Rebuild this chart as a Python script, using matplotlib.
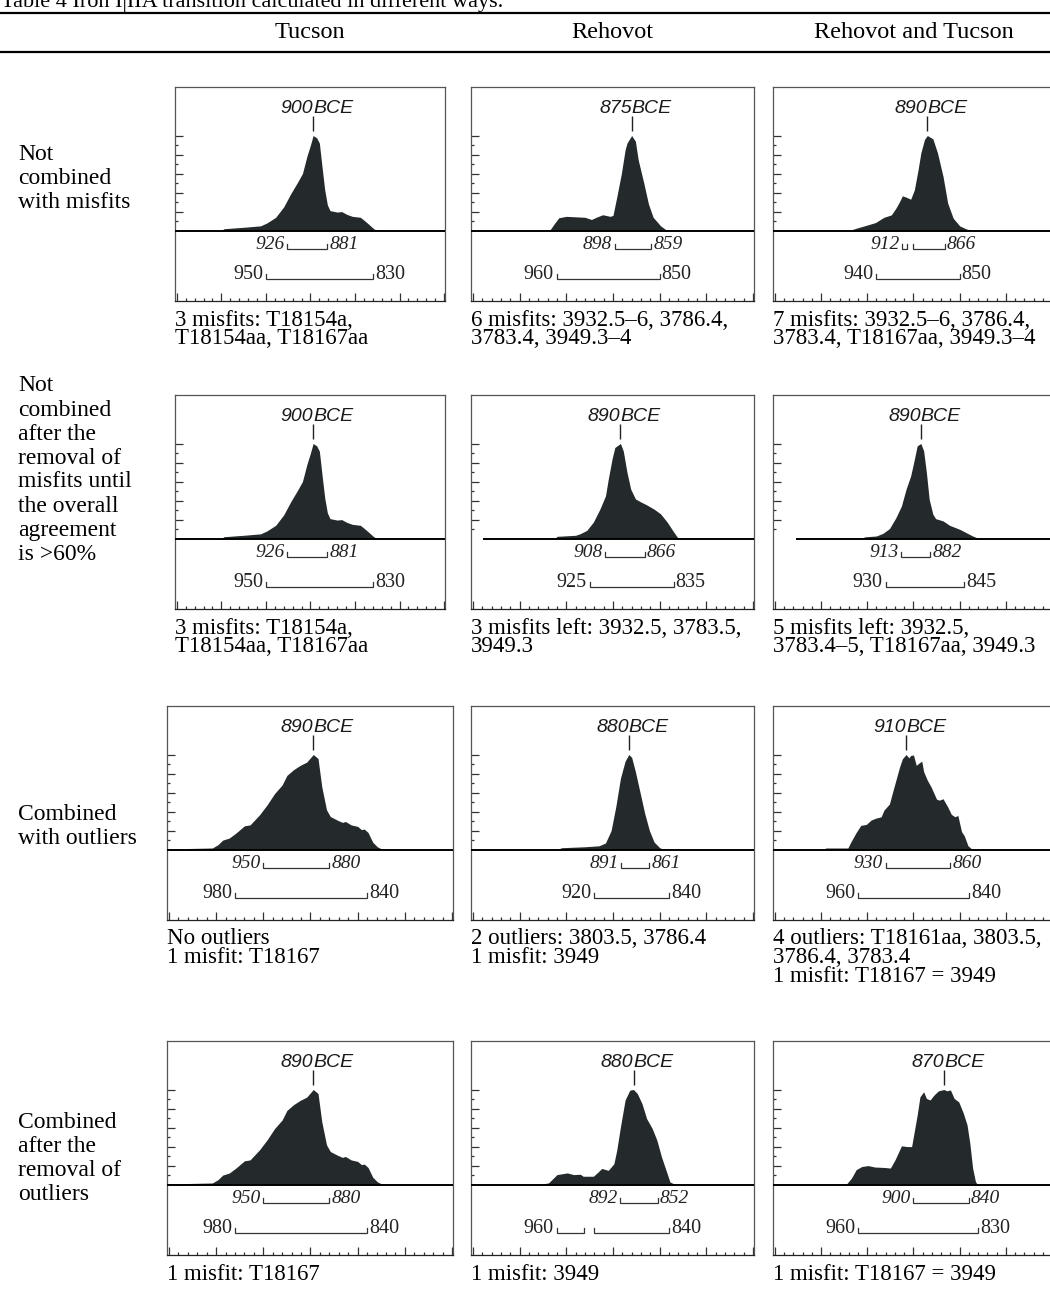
import numpy as np
import matplotlib
matplotlib.use("Agg")
import matplotlib.pyplot as plt
from matplotlib.lines import Line2D
from matplotlib.ticker import FixedLocator, MultipleLocator
from matplotlib.transforms import offset_copy

plt.rcParams['font.family'] = ['Liberation Serif', 'DejaVu Serif']

# ---------------- data ----------------
title = "Table 4 Iron I|IIA transition calculated in different ways."
columns = ["Tucson", "Rehovot", "Rehovot and Tucson"]
row_labels = [
    "Not\ncombined\nwith misfits",
    "Not\ncombined\nafter the\nremoval of\nmisfits until\nthe overall\nagreement\nis >60%",
    "Combined\nwith outliers",
    "Combined\nafter the\nremoval of\noutliers",
]

# Tucson, not combined (rows 1 and 2)
tuc_nc_years = [1000, 997, 975, 956, 949, 939, 930, 922, 915, 909, 904, 900, 897, 893,
                890, 887, 884, 881, 878, 870, 865, 859, 853, 844, 840, 835, 829, 825]
tuc_nc_dens = [0, 0.02, 0.035, 0.05, 0.08, 0.14, 0.25, 0.39, 0.5, 0.6, 0.78, 0.9, 1.0, 0.975,
               0.92, 0.67, 0.43, 0.27, 0.21, 0.195, 0.2, 0.17, 0.15, 0.14, 0.11, 0.07, 0.02, 0]
# Rehovot, not combined with misfits
reh_nc_years = [968, 963, 958, 950, 930, 923, 918, 911, 903, 900, 896, 891, 887, 885,
                880, 876, 873, 867, 862, 857, 849, 842]
reh_nc_dens = [0, 0.07, 0.135, 0.15, 0.14, 0.117, 0.14, 0.167, 0.15, 0.16, 0.35, 0.6, 0.85, 0.92,
               1.0, 0.94, 0.745, 0.5, 0.28, 0.14, 0.05, 0]
# Rehovot and Tucson, not combined with misfits
rt_nc_years = [970, 962, 952, 941, 932, 924, 919, 915, 912, 908, 903, 899, 895, 892,
               888, 885, 879, 874, 868, 863, 857, 850, 843, 836]
rt_nc_dens = [0, 0.025, 0.053, 0.085, 0.14, 0.165, 0.236, 0.306, 0.366, 0.352, 0.33, 0.43, 0.64, 0.817,
              0.96, 1.0, 0.965, 0.817, 0.57, 0.29, 0.13, 0.05, 0.018, 0]
# Rehovot, misfits removed
reh_rm_years = [962, 960, 940, 935, 928, 921, 914, 908, 905, 901, 898, 892, 889, 885,
                881, 876, 871, 864, 856, 849, 842, 835, 830]
reh_rm_dens = [0, 0.024, 0.035, 0.052, 0.087, 0.174, 0.31, 0.45, 0.627, 0.836, 0.958, 1.0, 0.923, 0.697,
               0.52, 0.418, 0.39, 0.355, 0.31, 0.26, 0.174, 0.07, 0]
# Rehovot and Tucson, misfits removed
rt_rm_years = [956, 953, 940, 933, 926, 919, 913, 908, 903, 899, 896, 892, 889, 886,
               883, 879, 876, 868, 861, 850, 843, 836, 829]
rt_rm_dens = [0, 0.018, 0.028, 0.056, 0.105, 0.22, 0.344, 0.52, 0.66, 0.835, 0.975, 1.0, 0.923, 0.695,
              0.414, 0.256, 0.21, 0.186, 0.14, 0.098, 0.063, 0.028, 0]
# Tucson, combined (rows 3 and 4)
tuc_c_years = [1052, 1004, 998, 993, 986, 979, 970, 964, 954, 946, 938, 930, 925, 918, 911, 904,
               897, 892, 888, 883, 879, 871, 866, 863, 857, 850, 846, 843, 839, 834, 829, 823]
tuc_c_dens = [0.007, 0.017, 0.052, 0.1, 0.122, 0.174, 0.25, 0.26, 0.366, 0.47, 0.59, 0.68, 0.78, 0.84,
              0.885, 0.92, 1.0, 0.958, 0.66, 0.418, 0.348, 0.307, 0.286, 0.296, 0.26, 0.244, 0.21,
              0.216, 0.18, 0.077, 0.028, 0]
# Rehovot, combined with outliers
reh_co_years = [960, 955, 930, 915, 908, 902, 897, 892, 887, 883, 880, 876, 871, 866, 861, 856, 850, 845]
reh_co_dens = [0, 0.02, 0.03, 0.04, 0.07, 0.2, 0.45, 0.75, 0.93, 1.0, 0.97, 0.82, 0.6, 0.38, 0.2, 0.08, 0.02, 0]
# Rehovot and Tucson, combined with outliers
rt_co_years = [997, 995, 971, 968, 962, 957, 951, 946, 941, 935, 932, 926, 923, 919, 915, 912, 908, 905,
               903, 900, 897, 894, 891, 889, 885, 881, 875, 872, 868, 863, 859, 855, 852, 848, 845, 841, 836]
rt_co_dens = [0, 0.017, 0.017, 0.076, 0.18, 0.255, 0.265, 0.31, 0.33, 0.345, 0.414, 0.48, 0.59, 0.73, 0.87,
              0.955, 1.0, 0.965, 0.99, 0.995, 0.886, 0.91, 0.93, 0.82, 0.73, 0.66, 0.53, 0.52, 0.535, 0.45,
              0.37, 0.345, 0.36, 0.19, 0.145, 0.04, 0]
# Rehovot, combined after removal of outliers
reh_cr_years = [980, 969, 960, 949, 942, 935, 932, 921, 917, 912, 905, 899, 896, 892, 887, 882, 878,
                874, 869, 864, 858, 853, 848, 842, 839, 833]
reh_cr_dens = [0, 0.018, 0.105, 0.123, 0.105, 0.109, 0.088, 0.088, 0.123, 0.17, 0.15, 0.22, 0.36, 0.607,
               0.89, 0.993, 1.0, 0.958, 0.853, 0.695, 0.59, 0.467, 0.29, 0.116, 0.028, 0]
# Rehovot and Tucson, combined after removal of outliers
rt_cr_years = [973, 967, 962, 956, 949, 942, 931, 925, 920, 913, 907, 902, 896, 893, 889, 886, 882, 878,
               873, 867, 864, 860, 856, 851, 846, 842, 839, 836, 833, 831]
rt_cr_dens = [0, 0.07, 0.157, 0.19, 0.2, 0.185, 0.18, 0.174, 0.26, 0.408, 0.4, 0.4, 0.73, 0.923, 0.976,
              0.906, 0.89, 0.94, 0.986, 1.0, 0.986, 0.995, 0.906, 0.87, 0.75, 0.627, 0.435, 0.174, 0.035, 0]

curves = [
    [(tuc_nc_years, tuc_nc_dens), (reh_nc_years, reh_nc_dens), (rt_nc_years, rt_nc_dens)],
    [(tuc_nc_years, tuc_nc_dens), (reh_rm_years, reh_rm_dens), (rt_rm_years, rt_rm_dens)],
    [(tuc_c_years, tuc_c_dens), (reh_co_years, reh_co_dens), (rt_co_years, rt_co_dens)],
    [(tuc_c_years, tuc_c_dens), (reh_cr_years, reh_cr_dens), (rt_cr_years, rt_cr_dens)],
]
mode_labels = [[900, 875, 890], [900, 890, 890], [890, 880, 910], [890, 880, 870]]
hpd68 = [
    [[(926, 881)], [(898, 859)], [(912, 907), (900, 866)]],
    [[(926, 881)], [(908, 866)], [(913, 882)]],
    [[(950, 880)], [(891, 861)], [(930, 860)]],
    [[(950, 880)], [(892, 852)], [(900, 840)]],
]
hpd95 = [
    [[(950, 830)], [(960, 850)], [(940, 850)]],
    [[(950, 830)], [(925, 835)], [(930, 845)]],
    [[(980, 840)], [(920, 840)], [(960, 840)]],
    [[(980, 840)], [(960, 931), (920, 840)], [(960, 830)]],
]
range_start = [[None, None, None], [None, 1039, 1027], [None, None, None], [None, None, None]]
captions = [
    ["3 misfits: T18154a,\nT18154aa, T18167aa",
     "6 misfits: 3932.5\u20136, 3786.4,\n3783.4, 3949.3\u20134",
     "7 misfits: 3932.5\u20136, 3786.4,\n3783.4, T18167aa, 3949.3\u20134"],
    ["3 misfits: T18154a,\nT18154aa, T18167aa",
     "3 misfits left: 3932.5, 3783.5,\n3949.3",
     "5 misfits left: 3932.5,\n3783.4\u20135, T18167aa, 3949.3"],
    ["No outliers\n1 misfit: T18167",
     "2 outliers: 3803.5, 3786.4\n1 misfit: 3949",
     "4 outliers: T18161aa, 3803.5,\n3786.4, 3783.4\n1 misfit: T18167 = 3949"],
    ["1 misfit: T18167", "1 misfit: 3949", "1 misfit: T18167 = 3949"],
]

# ---------------- layout / style ----------------
W, H = 1050, 1290
XL = (1052, 749)
YL = (-0.74, 1.51)
ROW_TOPS = [87, 395, 706, 1041]
PANEL_H = 214
COL_SPANS = [[(175, 445), (471, 754), (773, 1053)],
             [(175, 445), (471, 754), (773, 1053)],
             [(167, 453), (471, 754), (773, 1053)],
             [(167, 453), (471, 754), (773, 1053)]]
FILL = '#24292b'
SERIF = ['Liberation Serif', 'DejaVu Serif']
SANS = ['Liberation Sans', 'DejaVu Sans']
Y68, Y95, TICKH = -0.19, -0.505, 0.045

fig = plt.figure(figsize=(W / 100, H / 100), dpi=100)


def fy(y):
    return 1 - y / H


def ftext(x, y, s, **kw):
    fig.text(x / W, fy(y), s, **kw)


# header
ftext(1, 7, title, fontsize=16, va='baseline', ha='left', family=SERIF)
for yy in (13, 52):
    fig.add_artist(Line2D([0, 1], [fy(yy), fy(yy)], transform=fig.transFigure,
                          color='black', lw=1.6))
col_centers = [310, 612, 914]
for cx, name in zip(col_centers, columns):
    ftext(cx, 32, name, fontsize=17.5, ha='center', va='center', family=SERIF)

# row labels
row_label_first = [154, 386, 815, 1122]
for y0, lab in zip(row_label_first, row_labels):
    for i, line in enumerate(lab.split("\n")):
        ftext(18, y0 + i * 24, line, fontsize=17, ha='left', va='center', family=SERIF)


def draw_bracket(ax, intervals, y, italic, size):
    for a, b in intervals:
        ax.plot([a, a, b, b], [y + TICKH, y, y, y + TICKH], color='#333333', lw=0.9,
                solid_joinstyle='miter', zorder=3)
    left_tr = offset_copy(ax.transData, fig=fig, x=-3, y=0, units='dots')
    right_tr = offset_copy(ax.transData, fig=fig, x=2, y=0, units='dots')
    style = 'italic' if italic else 'normal'
    ax.text(intervals[0][0], y, str(intervals[0][0]), transform=left_tr, ha='right',
            va='baseline', fontsize=size, style=style, family=SERIF, color='#222222')
    ax.text(intervals[-1][1], y, str(intervals[-1][1]), transform=right_tr, ha='left',
            va='baseline', fontsize=size, style=style, family=SERIF, color='#222222')


for r in range(4):
    for c in range(3):
        l, rgt = COL_SPANS[r][c]
        top = ROW_TOPS[r]
        ax = fig.add_axes([l / W, fy(top + PANEL_H), (rgt - l) / W, PANEL_H / H])
        ax.set_xlim(XL)
        ax.set_ylim(YL)
        yrs, dens = curves[r][c]
        ax.fill_between(yrs, dens, 0, color=FILL, lw=0, zorder=2)
        x0 = XL[0] if range_start[r][c] is None else range_start[r][c]
        ax.hlines(0, x0, XL[1], color='black', lw=1.4, zorder=3)
        # mode marker
        i = int(np.argmax(dens))
        xm, ym = yrs[i], dens[i]
        ax.vlines(xm, ym + 0.05, ym + 0.2, color='#222222', lw=1.0, zorder=3)
        ax.text(xm, ym + 0.235, str(mode_labels[r][c]), ha='right', va='baseline',
                fontsize=14, style='italic', family=SANS, color='#1a1a1a')
        ax.text(xm, ym + 0.235, "BCE", ha='left', va='baseline',
                fontsize=14, style='italic', family=SANS, color='#1a1a1a')
        draw_bracket(ax, hpd68[r][c], Y68, True, 14)
        draw_bracket(ax, hpd95[r][c], Y95, False, 14.5)
        # axes styling
        for sp in ax.spines.values():
            sp.set_color('#555555')
            sp.set_linewidth(0.9)
        ax.spines['bottom'].set_color('#222222')
        ax.xaxis.set_major_locator(MultipleLocator(50))
        ax.xaxis.set_minor_locator(MultipleLocator(10))
        ax.yaxis.set_major_locator(FixedLocator([0.2, 0.4, 0.6, 0.8, 1.0]))
        ax.yaxis.set_minor_locator(FixedLocator([0.1, 0.3, 0.5, 0.7, 0.9]))
        ax.tick_params(axis='both', which='both', direction='in', labelbottom=False,
                       labelleft=False, top=False, right=False, color='#333333', width=0.9)
        ax.tick_params(axis='both', which='major', length=5.5)
        ax.tick_params(axis='both', which='minor', length=2.5)
        # caption
        bottom = top + PANEL_H
        for k, line in enumerate(captions[r][c].split("\n")):
            ftext(l, bottom + 19 + k * 18.5, line, fontsize=16.5, ha='left', va='center', family=SERIF)

fig.savefig("out.png", dpi=100)
